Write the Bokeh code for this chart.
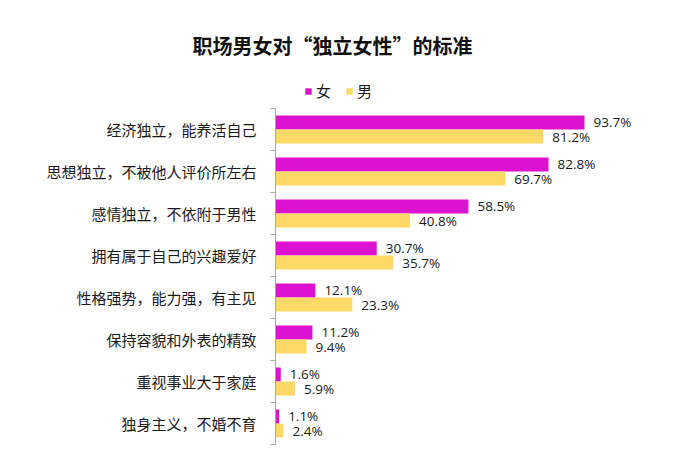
from bokeh.plotting import figure
from bokeh.models import (ColumnDataSource, Range1d, FixedTicker, Title, Legend, LegendItem)
from bokeh.core.properties import value
from bokeh.embed import file_html
from bokeh.resources import INLINE

title_text = "职场男女对“独立女性”的标准"
categories = ["经济独立，能养活自己", "思想独立，不被他人评价所左右", "感情独立，不依附于男性",
              "拥有属于自己的兴趣爱好", "性格强势，能力强，有主见", "保持容貌和外表的精致",
              "重视事业大于家庭", "独身主义，不婚不育"]
female = [93.7, 82.8, 58.5, 30.7, 12.1, 11.2, 1.6, 1.1]
male = [81.2, 69.7, 40.8, 35.7, 23.3, 9.4, 5.9, 2.4]
series_names = ["女", "男"]

FEM_COLOR = "#DD11D0"
MALE_COLOR = "#FFD966"
CJK = "Noto Sans CJK SC"
BAR_H = 0.335
# frame starts 33px above the first category band (room for the legend); 42px per band
HEAD_EXTRA = 33 / 42

n = len(categories)
centers = [i + 0.5 for i in range(n)]
bounds = [float(i) for i in range(n + 1)]

src = ColumnDataSource(dict(
    yf=[c - BAR_H / 2 for c in centers],
    ym=[c + BAR_H / 2 for c in centers],
    female=female, male=male,
    flab=[f"{v:.1f}%" for v in female],
    mlab=[f"{v:.1f}%" for v in male],
))

p = figure(width=676, height=448, output_backend="svg", toolbar_location=None,
           x_range=Range1d(0, 112.5), y_range=Range1d(n, -HEAD_EXTRA),
           x_axis_location=None, min_border_left=275, min_border_right=30,
           min_border_top=75, min_border_bottom=4)
p.grid.visible = False
p.outline_line_color = None

rf = p.hbar(y="yf", right="female", left=0, height=BAR_H, source=src,
            fill_color=FEM_COLOR, line_color=None)
rm = p.hbar(y="ym", right="male", left=0, height=BAR_H, source=src,
            fill_color=MALE_COLOR, line_color=None)

for ycol, xcol, lcol in (("yf", "female", "flab"), ("ym", "male", "mlab")):
    p.text(x=xcol, y=ycol, text=lcol, source=src, x_offset=9,
           text_align="left", text_baseline="middle",
           text_font=value("Open Sans"), text_font_size="13.5px", text_color="#1a1a1a")

ax = p.yaxis[0]
ax.bounds = (0, n)
ax.ticker = FixedTicker(ticks=centers, minor_ticks=bounds)
ax.major_label_overrides = {c: lab for c, lab in zip(centers, categories)}
ax.major_tick_out = 0
ax.major_tick_in = 0
ax.minor_tick_out = 5
ax.minor_tick_in = 0
ax.minor_tick_line_color = "#A6A6A6"
ax.axis_line_color = "#A6A6A6"
ax.major_label_standoff = 14
ax.major_label_text_font = CJK
ax.major_label_text_font_size = "15px"
ax.major_label_text_color = "#1a1a1a"

legend = Legend(items=[LegendItem(label=series_names[0], renderers=[rf]),
                       LegendItem(label=series_names[1], renderers=[rm])],
                location=(29, 343), orientation="horizontal",
                glyph_width=8, glyph_height=8, label_standoff=4, spacing=9,
                padding=0, margin=0, border_line_color=None, background_fill_alpha=0,
                label_text_font=CJK, label_text_font_size="15px", label_text_color="#1a1a1a")
p.add_layout(legend)

title = Title(text=title_text, align="left", offset=-83, standoff=32,
              text_font=CJK, text_font_size="20px", text_font_style="bold",
              text_color="#111111")
p.add_layout(title, "above")

open("out.html", "w").write(file_html(p, INLINE))
